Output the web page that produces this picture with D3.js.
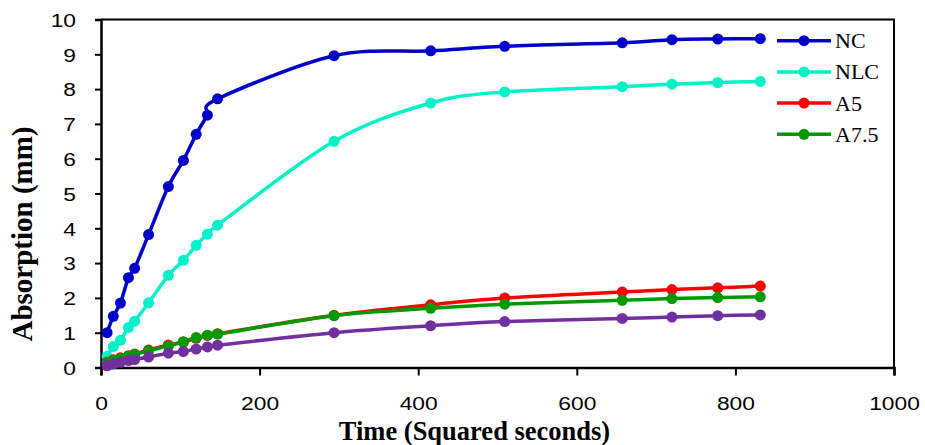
<!DOCTYPE html>
<html>
<head>
<meta charset="utf-8">
<script src="https://cdn.jsdelivr.net/npm/d3@7/dist/d3.min.js"></script>
<style>
  html, body { margin: 0; padding: 0; background: #fff; }
  svg { display: block; }
</style>
</head>
<body>
<svg id="chart" width="925" height="445"></svg>
<script>
// Sampling times (square root of seconds)
const times = [7.7, 15.5, 24.5, 34.6, 42.4, 60, 84.9, 103.9, 120, 134.2, 147, 293.9, 415.7, 509.1, 657.3, 720, 777.7, 831.4];

// Absorption (mm) per formulation
const nc   = [1.0, 1.47, 1.85, 2.58, 2.85, 3.82, 5.2, 5.95, 6.7, 7.25, 7.72, 8.96, 9.1, 9.23, 9.33, 9.42, 9.44, 9.45];
const nlc  = [0.32, 0.6, 0.78, 1.15, 1.33, 1.86, 2.65, 3.08, 3.51, 3.83, 4.09, 6.5, 7.6, 7.92, 8.07, 8.14, 8.19, 8.22];
const a5   = [0.15, 0.22, 0.28, 0.34, 0.39, 0.5, 0.65, 0.73, 0.84, 0.92, 0.97, 1.5, 1.8, 2.0, 2.17, 2.24, 2.29, 2.34];
const a75  = [0.13, 0.2, 0.26, 0.32, 0.37, 0.48, 0.62, 0.74, 0.86, 0.93, 0.96, 1.49, 1.7, 1.82, 1.93, 1.98, 2.01, 2.03];
const fifth = [0.05, 0.1, 0.15, 0.2, 0.23, 0.3, 0.41, 0.46, 0.53, 0.59, 0.64, 1.0, 1.2, 1.32, 1.41, 1.45, 1.49, 1.51];

const seriesNames = ["NC", "NLC", "A5", "A7.5", ""];
const seriesValues = [nc, nlc, a5, a75, fifth];
const seriesColors = ["#0000C8", "#00F2C8", "#FF0000", "#009A00", "#7030A0"];

const xTicks = [0, 200, 400, 600, 800, 1000];
const yTicks = [0, 1, 2, 3, 4, 5, 6, 7, 8, 9, 10];

const svg = d3.select("#chart");
const plot = { left: 101, right: 894, top: 19.5, bottom: 367.5 };

const x = d3.scaleLinear().domain([0, 1000]).range([plot.left, plot.right]);
const y = d3.scaleLinear().domain([0, 10]).range([plot.bottom, plot.top]);

const tickFont = "'Liberation Sans', Arial, sans-serif";
const serif = "'Liberation Serif', 'Times New Roman', serif";
const stretch = 1.2; // tick digits are drawn slightly wide

// Frame (top and right)
svg.append("path")
  .attr("d", `M${plot.left},${plot.top}H${plot.right}V${plot.bottom}`)
  .attr("fill", "none").attr("stroke", "#000").attr("stroke-width", 2);

// Axes
const xAxis = svg.append("g")
  .attr("transform", `translate(0,${plot.bottom})`)
  .call(d3.axisBottom(x).tickValues(xTicks).tickFormat(d3.format("d")).tickSizeOuter(0).tickSize(8));
const yAxis = svg.append("g")
  .attr("transform", `translate(${plot.left},0)`)
  .call(d3.axisLeft(y).tickValues(yTicks).tickFormat(d3.format("d")).tickSizeOuter(0).tickSize(6));

[xAxis, yAxis].forEach(g => {
  g.select(".domain").attr("stroke", "#000").attr("stroke-width", 2.5);
  g.selectAll(".tick line").attr("stroke", "#000").attr("stroke-width", 2);
  g.selectAll(".tick text")
    .attr("fill", "#000")
    .style("font-family", tickFont)
    .style("font-size", "19px");
});

xAxis.selectAll(".tick text")
  .attr("x", 0).attr("y", 43).attr("dy", 0)
  .attr("transform", `scale(${stretch},1)`);
yAxis.selectAll(".tick text")
  .attr("x", -25 / stretch).attr("dy", "0.36em")
  .attr("transform", `scale(${stretch},1)`);

// Axis titles
svg.append("text")
  .attr("x", 474.5)
  .attr("y", 440)
  .attr("text-anchor", "middle")
  .style("font-family", serif).style("font-weight", "bold").style("font-size", "26.5px")
  .text("Time (Squared seconds)");

svg.append("text")
  .attr("transform", `translate(32,234) rotate(-90)`)
  .attr("text-anchor", "middle")
  .style("font-family", serif).style("font-weight", "bold").style("font-size", "29px")
  .text("Absorption (mm)");

// Smoothed series with markers
const line = d3.line()
  .x(d => x(d[0]))
  .y(d => y(d[1]))
  .curve(d3.curveCardinal.tension(0));

seriesValues.forEach((vals, i) => {
  const pts = times.map((t, j) => [t, vals[j]]);
  const g = svg.append("g");
  g.append("path")
    .datum(pts)
    .attr("d", line)
    .attr("fill", "none")
    .attr("stroke", seriesColors[i])
    .attr("stroke-width", 3.5)
    .attr("stroke-linejoin", "round");
  g.selectAll("circle")
    .data(pts)
    .join("circle")
    .attr("cx", d => x(d[0]))
    .attr("cy", d => y(d[1]))
    .attr("r", 5.5)
    .attr("fill", seriesColors[i]);
});

// Legend (named series only)
const legend = svg.append("g");
seriesNames.forEach((name, i) => {
  if (!name) return;
  const ly = 40.7 + i * 31.2;
  legend.append("line")
    .attr("x1", 777).attr("x2", 831).attr("y1", ly).attr("y2", ly)
    .attr("stroke", seriesColors[i]).attr("stroke-width", 3.5);
  legend.append("circle")
    .attr("cx", 804).attr("cy", ly).attr("r", 5.5)
    .attr("fill", seriesColors[i]);
  legend.append("text")
    .attr("x", 835).attr("y", ly + 7.5)
    .style("font-family", serif).style("font-size", "22px")
    .attr("fill", "#000")
    .text(name);
});
</script>
</body>
</html>
